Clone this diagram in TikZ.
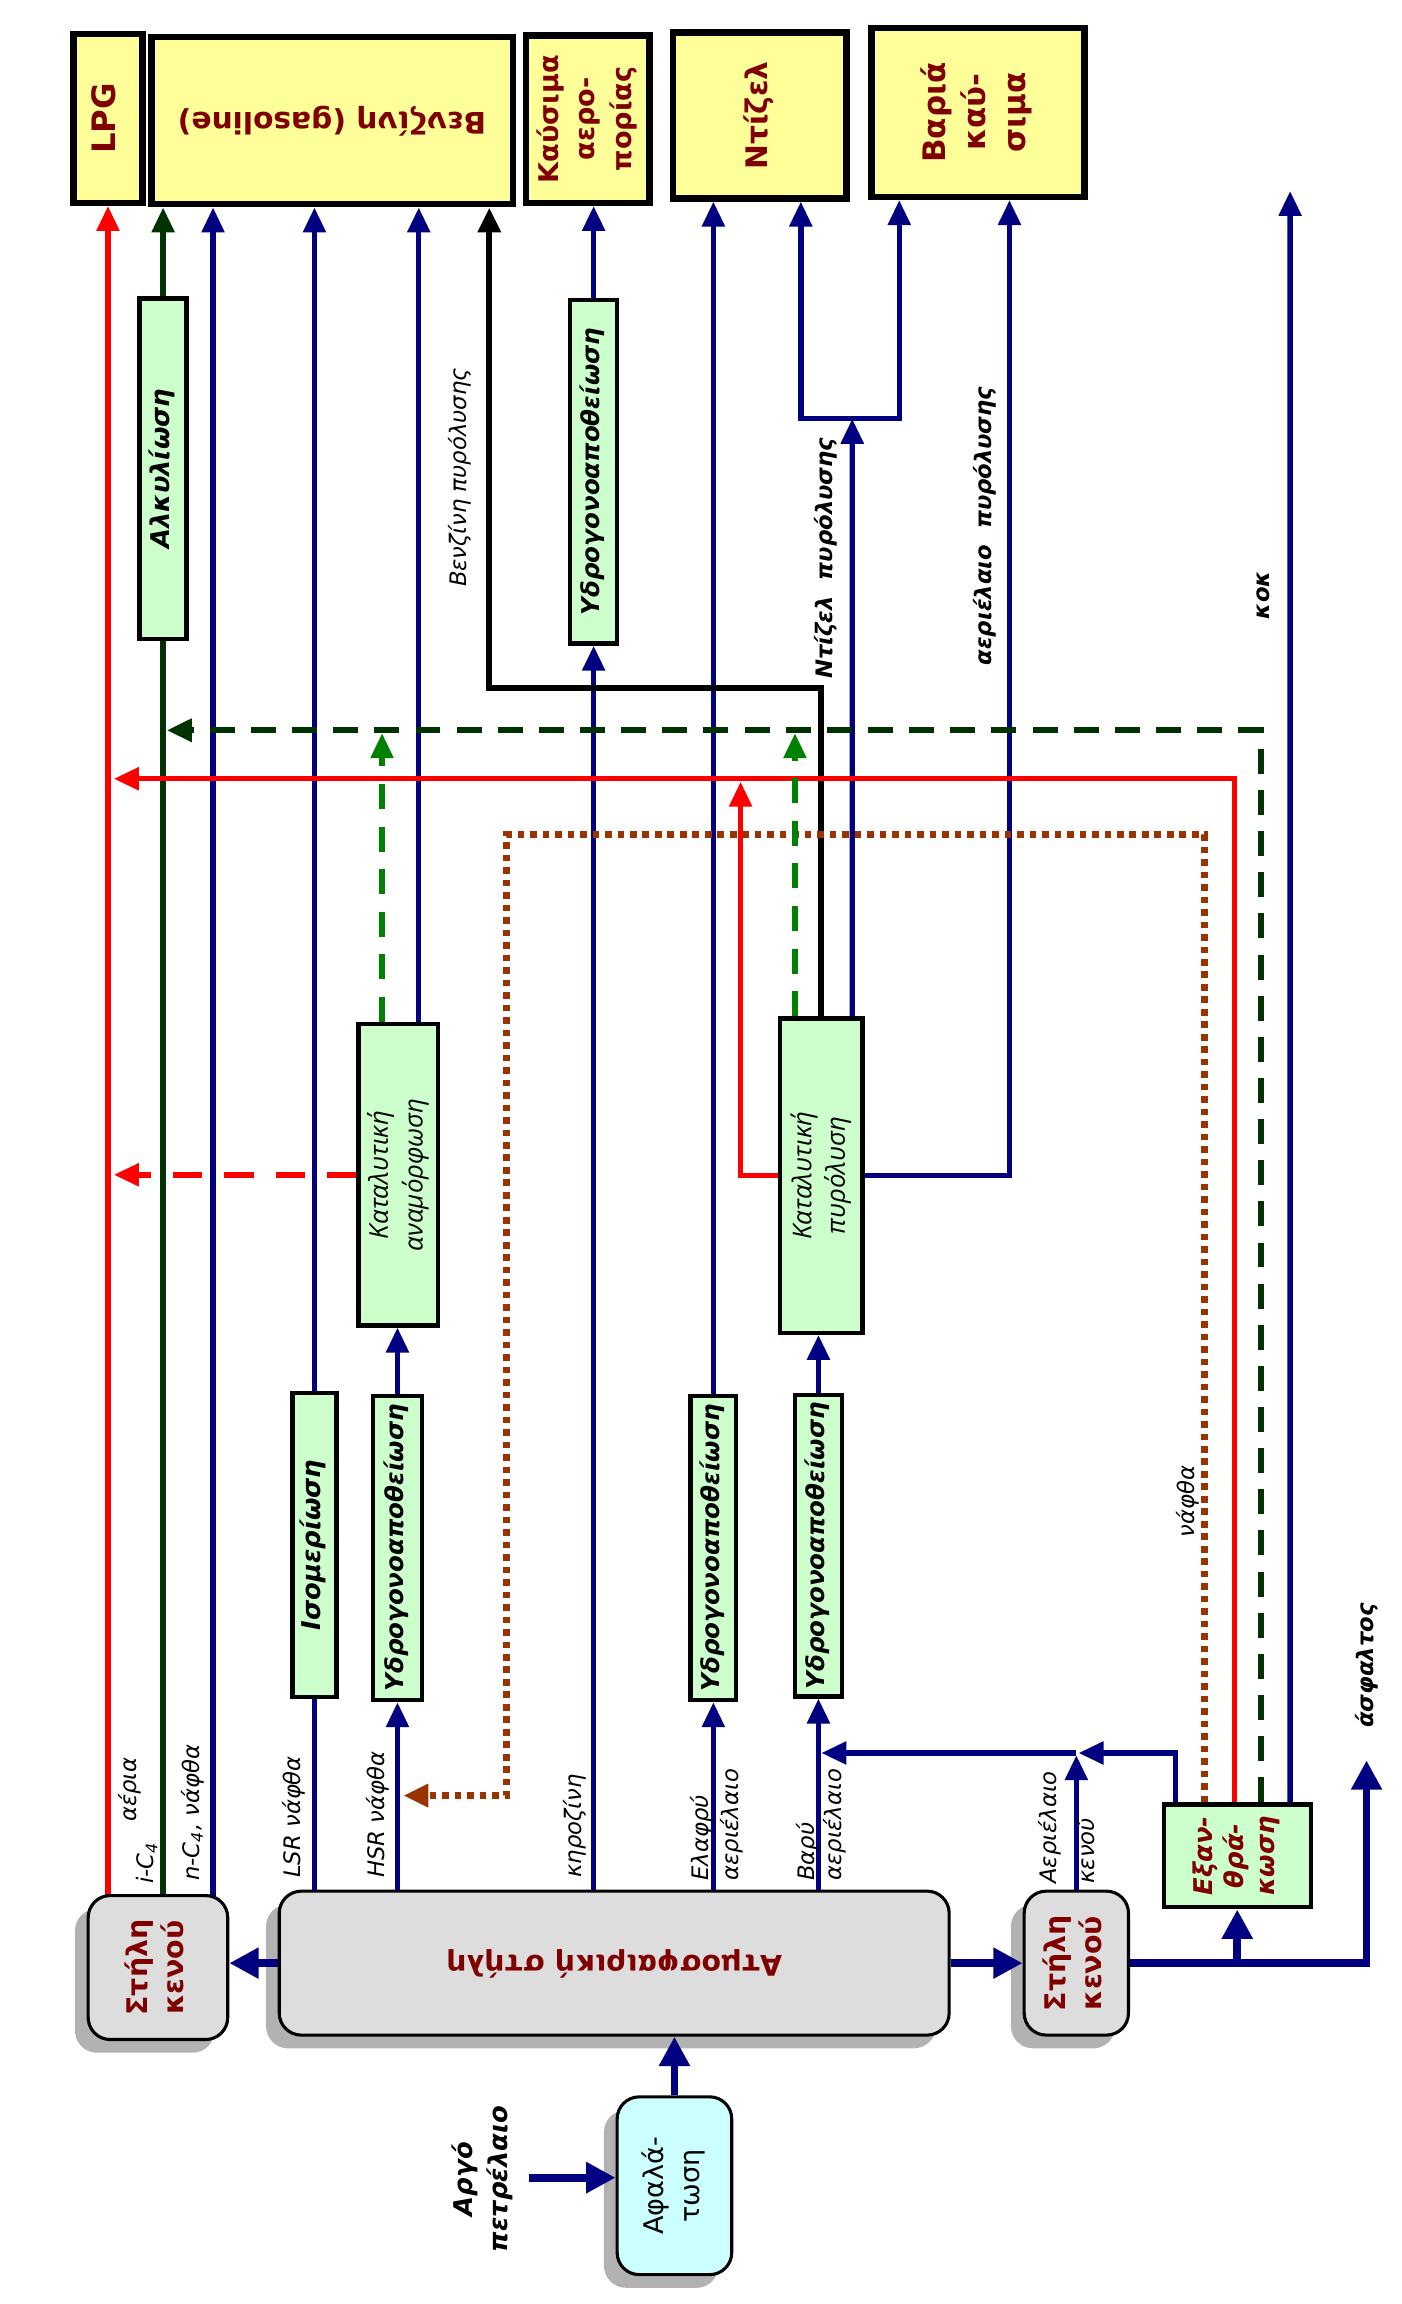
\documentclass[tikz,border=0pt]{standalone}
\usepackage{fontspec}
\setmainfont{DejaVu Sans}
\newfontfamily\thinfont{Open Sans}
\usepackage{graphicx}
\usetikzlibrary{arrows.meta,shadows,backgrounds}

\definecolor{navyflow}{HTML}{000080}
\definecolor{darkgreen}{HTML}{003300}
\definecolor{brightgreen}{HTML}{008000}
\definecolor{rustbrown}{HTML}{993300}
\definecolor{boxred}{HTML}{800000}
\definecolor{prodyellow}{HTML}{FFFF99}
\definecolor{unitgreen}{HTML}{CCFFCC}
\definecolor{colgray}{HTML}{DDDDDD}
\definecolor{saltcyan}{HTML}{CCFFFF}

% rotated (multi-line) text inside a box
\newcommand{\boxtext}[2][90]{\rotatebox{#1}{\begin{tabular}{@{}c@{}}#2\end{tabular}}}

\tikzset{
  product/.style={draw=black, line width=2.5pt, fill=prodyellow, inner sep=0pt,
    text=boxred, font=\bfseries\fontsize{11.5}{15}\selectfont},
  unit/.style={draw=black, line width=1.7pt, fill=unitgreen, inner sep=0pt,
    font=\bfseries\itshape\fontsize{9.5}{12}\selectfont},
  column/.style={draw=black, line width=1.2pt, fill=colgray, rounded corners=0.3cm,
    inner sep=0pt, text=boxred, font=\bfseries\fontsize{11}{14}\selectfont,
    drop shadow={shadow xshift=-0.18cm, shadow yshift=-0.18cm, fill=black!30, opacity=1}},
  flowlabel/.style={rotate=90, inner sep=1pt, font=\itshape\fontsize{8.8}{11.5}\selectfont},
  flowlabelbold/.style={flowlabel, font=\bfseries\itshape\fontsize{8.8}{11.5}\selectfont},
  navyline/.style={draw=navyflow, line width=2.1pt},
  mainline/.style={draw=navyflow, line width=3pt},
  redline/.style={draw=red, line width=2.1pt},
  redback/.style={redline, dash pattern=on 0.4cm off 0.3cm},
  greenline/.style={draw=darkgreen, line width=2.1pt},
  greenback/.style={greenline, line width=2.4pt, dash pattern=on 0.34cm off 0.22cm},
  reformgas/.style={draw=brightgreen, line width=2.1pt, dash pattern=on 0.34cm off 0.24cm},
  blackline/.style={draw=black, line width=2.4pt},
  naphback/.style={draw=rustbrown, line width=2.7pt, dash pattern=on 0.09cm off 0.08cm},
  tip/.style={-{Triangle[length=0.34cm,width=0.3cm]}},
  bigtip/.style={-{Triangle[length=0.4cm,width=0.4cm]}},
}

\begin{document}
\begin{tikzpicture}[x=0.02cm, y=-0.02cm]
\useasboundingbox (0,0) rectangle (954,1568);

% products
\node[product, minimum width=0.94cm, minimum height=2.3cm, font=\bfseries\fontsize{12.5}{15}\selectfont] (lpg) at (73.5,80.5) {\boxtext{LPG}};
\node[product, minimum width=4.92cm, minimum height=2.28cm] (gasoline) at (226,82) {\boxtext[180]{Βενζίνη (gasoline)}};
\node[product, minimum width=1.68cm, minimum height=2.28cm, font=\bfseries\fontsize{10.5}{14}\selectfont] (jetfuel) at (400,81) {\boxtext{Καύσιμα\\αερο-\\πορίας}};
\node[product, minimum width=2.36cm, minimum height=2.26cm] (diesel) at (517,78.5) {\boxtext{Ντίζελ}};
\node[product, minimum width=2.9cm, minimum height=2.3cm, font=\bfseries\fontsize{12}{15.5}\selectfont] (heavy) at (665.5,76.5) {\boxtext{Βαριά\\καύ-\\σιμα}};

% process units
\node[unit, minimum width=0.64cm, minimum height=4.64cm, font=\bfseries\itshape\fontsize{10}{12}\selectfont] (alky) at (111,319) {\boxtext{Αλκυλίωση}};
\node[unit, minimum width=0.64cm, minimum height=4.68cm] (hdsjet) at (404,321) {\boxtext{Υδρογονοαποθείωση}};
\node[unit, minimum width=0.6cm, minimum height=4.14cm, font=\bfseries\itshape\fontsize{10}{12}\selectfont] (iso) at (214,1051.5) {\boxtext{Ισομερίωση}};
\node[unit, minimum width=0.66cm, minimum height=4.14cm] (hdsnap) at (270.5,1053.5) {\boxtext{Υδρογονοαποθείωση}};
\node[unit, minimum width=0.62cm, minimum height=4.14cm] (hdslgo) at (485.5,1053.5) {\boxtext{Υδρογονοαποθείωση}};
\node[unit, minimum width=0.64cm, minimum height=4.1cm] (hdshgo) at (557,1052) {\boxtext{Υδρογονοαποθείωση}};
\node[unit, minimum width=1.08cm, minimum height=4.1cm, font=\thinfont\itshape\fontsize{10}{13.5}\selectfont] (reform) at (271,799.5) {\boxtext{Καταλυτική\\αναμόρφωση}};
\node[unit, minimum width=1.12cm, minimum height=4.28cm, font=\thinfont\itshape\fontsize{10}{13}\selectfont] (crack) at (559,800) {\boxtext{Καταλυτική\\πυρόλυση}};
\node[unit, minimum width=2cm, minimum height=1.4cm, text=boxred, font=\bfseries\itshape\fontsize{10}{12}\selectfont] (coker) at (842,1263) {\boxtext{Εξαν-\\θρά-\\κωση}};

% columns
\node[column, minimum width=1.9cm, minimum height=1.96cm] (vacL) at (107.5,1339) {\boxtext{Στήλη\\κενού}};
\node[column, minimum width=9.12cm, minimum height=1.96cm] (atm) at (418,1336) {\boxtext[180]{Ατμοσφαιρική στήλη}};
\node[column, minimum width=1.42cm, minimum height=1.96cm] (vacR) at (732.5,1336) {\boxtext{Στήλη\\κενού}};
\node[column, minimum width=1.56cm, minimum height=2.42cm, fill=saltcyan, text=black, font=\fontsize{10.5}{14}\selectfont] (desalt) at (459,1487.5) {\boxtext{Αφαλά-\\τωση}};

% bends and free ends
\coordinate (nbut) at (145,0);
\coordinate (gasbend) at (333,468);
\coordinate (alkyret) at (111,497);
\coordinate (lpgret) at (73.5,530);
\coordinate (crackgas) at (504,532);
\coordinate (naphtop) at (345,568);
\coordinate (naphlow) at (345,1222);
\coordinate (forkL) at (545,285);
\coordinate (forkR) at (612,285);
\coordinate (dfork) at (580,285);
\coordinate (hgo) at (687,0);
\coordinate (coke) at (878,130);
\coordinate (vgojoin) at (557,1193);
\coordinate (asph) at (930,1198);
\coordinate (crude) at (360,1482);

% vacuum column (left) products
\begin{scope}[on background layer]
  \draw[redline, tip] (vacL.center -| lpg) -- (lpg.south);
  \draw[greenline] (vacL.center -| alky) -- (alky.south);
  \draw[navyline, tip] (vacL.center -| nbut) -- (nbut |- gasoline.south);
\end{scope}
\draw[greenline, tip] (alky.north) -- (alky.north |- gasoline.south);

% atmospheric column cuts
\draw[navyline] (atm.north -| iso) -- (iso.south);
\draw[navyline, tip] (iso.north) -- (iso.north |- gasoline.south);
\draw[navyline, tip] (atm.north -| hdsnap) -- (hdsnap.south);
\draw[navyline, tip] (hdsnap.north) -- (hdsnap.north |- reform.south);
\draw[navyline, tip] (atm.north -| hdsjet) -- (hdsjet.south);
\draw[navyline, tip] (hdsjet.north) -- (hdsjet.north |- jetfuel.south);
\draw[navyline, tip] (atm.north -| hdslgo) -- (hdslgo.south);
\draw[navyline, tip] (hdslgo.north) -- (hdslgo.north |- diesel.south);
\draw[navyline, tip] (atm.north -| hdshgo) -- (hdshgo.south);
\draw[navyline, tip] (hdshgo.north) -- (hdshgo.north |- crack.south);

% reformer and cracker products
\draw[navyline, tip] ([xshift=0.28cm]reform.north) -- ([xshift=0.28cm]reform.north |- gasoline.south);
\draw[navyline, tip] ([xshift=0.42cm]crack.north) -- (dfork);
\draw[navyline, {Triangle[length=0.34cm,width=0.3cm]}-{Triangle[length=0.34cm,width=0.3cm]}] (forkL |- diesel.south) -- (forkL) -- (forkR) -- (forkR |- heavy.south);
\draw[navyline, tip] (crack.east) -| (hgo |- heavy.south);
\draw[navyline, tip] ([xshift=0.72cm]coker.north) -- (coke);
\draw[blackline, tip] (crack.north) |- (gasbend) -- (gasbend |- gasoline.south);

% vacuum gas oil
\draw[navyline, tip, shorten >=0.03cm] (vacR.north) -- (vacR.north |- vgojoin);
\draw[navyline, tip, shorten >=0.03cm] ([xshift=-0.84cm]coker.north) |- (vacR.north |- vgojoin);
\draw[navyline, tip, shorten >=0.04cm] (vacR.north |- vgojoin) -- (vgojoin);

% recycle streams
\draw[naphback, tip, shorten >=0.08cm] ([xshift=-0.44cm]coker.north) |- (naphtop) -- (naphlow) -- (naphlow -| hdsnap);
\draw[redline, tip, shorten >=0.08cm] ([xshift=-0.04cm]coker.north) |- (lpgret);
\draw[greenback, tip, shorten >=0.05cm] ([xshift=0.32cm]coker.north) |- (alkyret);
\draw[reformgas, tip, shorten >=0.04cm] ([xshift=-0.22cm]reform.north) -- ([xshift=-0.22cm]reform.north |- alkyret);
\draw[reformgas, tip, shorten >=0.04cm] ([xshift=-0.36cm]crack.north) -- ([xshift=-0.36cm]crack.north |- alkyret);
\draw[redline, tip] (crack.west) -| (crackgas);
\draw[redback, tip, shorten >=0.08cm] (reform.west) -- (reform.west -| lpg);

% main feed lines
\draw[mainline, bigtip] (crude) -- (desalt.west |- crude);
\draw[mainline, bigtip] (desalt.north) -- (desalt.north |- atm.south);
\draw[mainline, bigtip] (atm.west) -- (vacL.east |- atm.west);
\draw[mainline, bigtip] (atm.east) -- (vacR.west);
\draw[mainline, bigtip] (vacR.east) -| (asph);
\draw[mainline, bigtip] (coker.south |- vacR.east) -- (coker.south);

% stream labels
\node[flowlabel, anchor=west] at (88,1242) {αέρια};
\node[flowlabel, anchor=west] at (100,1284) {i-C\textsubscript{4}};
\node[flowlabel, anchor=west] at (131,1282) {n-C\textsubscript{4}, νάφθα};
\node[flowlabel, anchor=west] at (200,1280) {LSR νάφθα};
\node[flowlabel, anchor=west] at (257,1280) {HSR νάφθα};
\node[flowlabel, anchor=west] at (391,1280) {κηροζίνη};
\node[flowlabel, anchor=west, align=left] at (488,1282) {Ελαφρύ\\αεριέλαιο};
\node[flowlabel, anchor=west, align=left, font=\itshape\fontsize{8.8}{10.5}\selectfont] at (559,1282) {Βαρύ\\αεριέλαιο};
\node[flowlabel, anchor=west, align=left, font=\itshape\fontsize{8.8}{14.5}\selectfont] at (726,1284) {Αεριέλαιο\\κενού};
\node[flowlabel] at (808,1022) {νάφθα};
\node[flowlabel] at (313,325) {Βενζίνη πυρόλυσης};
\node[flowlabelbold] at (562,380) {Ντίζελ\hspace{0.7em}πυρόλυσης};
\node[flowlabelbold] at (670,358) {αεριέλαιο\hspace{0.7em}πυρόλυσης};
\node[flowlabelbold] at (860,405) {κοκ};
\node[flowlabelbold, anchor=west] at (930,1178) {άσφαλτος};
\node[flowlabelbold, align=center, font=\bfseries\itshape\fontsize{10}{13.5}\selectfont] at (328,1483) {Αργό\\πετρέλαιο};
\end{tikzpicture}
\end{document}
